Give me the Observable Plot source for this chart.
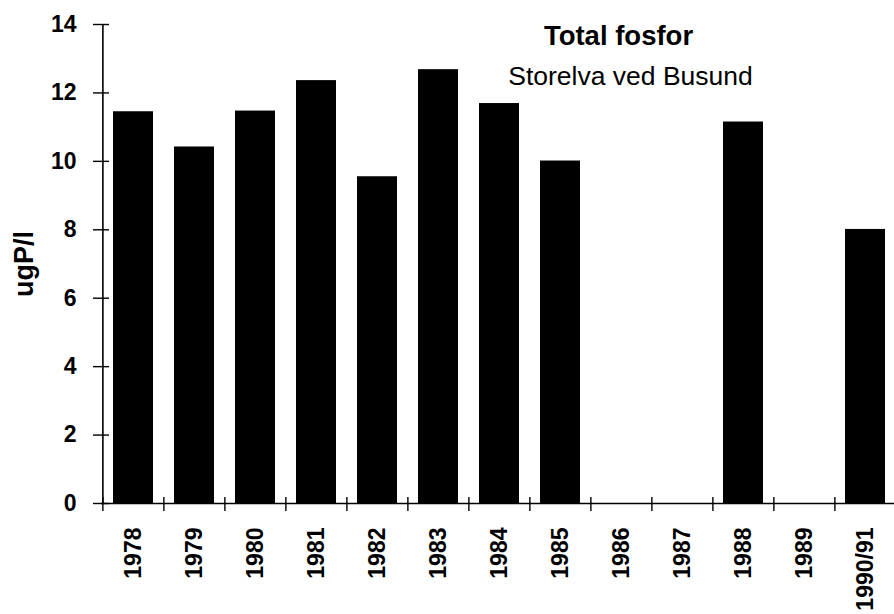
<!DOCTYPE html>
<html>
<head>
<meta charset="utf-8">
<script src="https://cdn.jsdelivr.net/npm/d3@7"></script>
<script src="https://cdn.jsdelivr.net/npm/@observablehq/plot@0.6"></script>
<style>
  html, body { margin: 0; padding: 0; background: #fff; }
  #chart svg { display: block; }
</style>
</head>
<body>
<div id="chart"></div>
<script>
const years = ["1978","1979","1980","1981","1982","1983","1984","1985","1986","1987","1988","1989","1990/91"];
const values = [11.45, 10.42, 11.47, 12.36, 9.55, 12.68, 11.69, 10.01, null, null, 11.15, null, 8.01];
const yTicks = [0, 2, 4, 6, 8, 10, 12, 14];
const title = "Total fosfor";
const subtitle = "Storelva ved Busund";
const yLabel = "ugP/l";

const data = years.map((year, i) => ({year, value: values[i]}));

const width = 894, height = 614;
const marginLeft = 101, marginRight = -3, marginTop = 24, marginBottom = 111;
const step = (width - marginLeft - marginRight) / years.length;
const font = "'Liberation Sans', Arial, Helvetica, sans-serif";

const chart = Plot.plot({
  width, height, marginLeft, marginRight, marginTop, marginBottom,
  style: {fontFamily: font, color: "#000", background: "#fff", overflow: "visible"},
  x: {domain: years, paddingInner: 0.34, paddingOuter: 0.15, axis: null},
  y: {domain: [0, 14], axis: null},
  marks: [
    Plot.barY(data.filter(d => d.value != null), {x: "year", y: "value", fill: "#000"}),
    // x axis line
    Plot.ruleY([0], {stroke: "#000", strokeWidth: 1.6}),
    // y axis line
    Plot.ruleX([years[0]], {dx: -step / 2, y1: 0, y2: 14, stroke: "#000", strokeWidth: 1.6}),
    // x tick marks at band boundaries
    Plot.ruleX(years, {dx: -step / 2, y1: 0, y2: 0, insetTop: -6, insetBottom: -8, stroke: "#000", strokeWidth: 1.4}),
    // y tick marks crossing the axis
    Plot.axisY(yTicks, {tickSize: 16, dx: 8, tickFormat: () => "", label: null, stroke: "#000", strokeWidth: 1.4}),
    // y tick labels
    Plot.axisY(yTicks, {tickSize: 0, tickPadding: 25, label: null, fontSize: 23, fontWeight: "bold", fill: "#000"}),
    // x tick labels
    Plot.axisX({tickSize: 0, tickPadding: 24, tickRotate: -90, label: null, fontSize: 23, fontWeight: "bold", fill: "#000"}),
    // y axis label
    Plot.text([yLabel], {frameAnchor: "left", textAnchor: "middle", dx: -77, rotate: -90, fontSize: 27, fontWeight: "bold", fill: "#000"}),
    // title and subtitle
    Plot.text([title], {frameAnchor: "top", dx: 119, dy: 1, fontSize: 27.5, fontWeight: "bold", fill: "#000"}),
    Plot.text([subtitle], {frameAnchor: "top", dx: 131, dy: 42, fontSize: 26.5, fill: "#000"})
  ]
});
document.getElementById("chart").appendChild(chart);
</script>
</body>
</html>
